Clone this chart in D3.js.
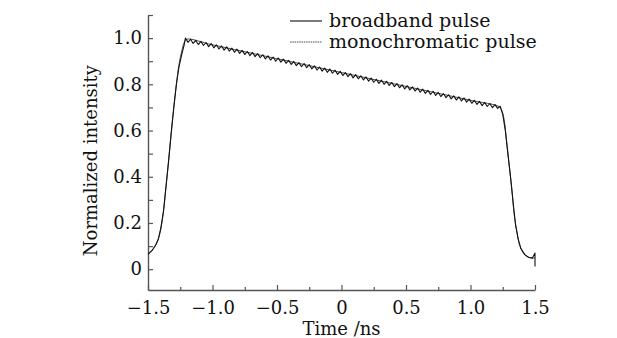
<!DOCTYPE html>
<html lang="en">
<head>
    <meta charset="utf-8">
    <title>Pulse shape</title>
    <style>
        body { margin: 0; background: #fff; }
        svg { display: block; }
        .tick text, .lab { font-family: "DejaVu Serif", serif; fill: #111; }
    </style>
</head>
<body>
<script src="https://cdn.jsdelivr.net/npm/d3@7/dist/d3.min.js"></script>
<script>
    // series: [time (ns), normalized intensity]
    const broadband = [
        [-1.50, 0.065], [-1.47, 0.08], [-1.44, 0.105], [-1.41, 0.15], [-1.38, 0.25],
        [-1.36, 0.36], [-1.34, 0.47], [-1.32, 0.59], [-1.30, 0.70],
        [-1.28, 0.80], [-1.26, 0.885], [-1.24, 0.94], [-1.22, 0.98], [-1.20, 0.995],
        [-1.00, 0.971], [-0.50, 0.911], [0.00, 0.851], [0.50, 0.791], [1.00, 0.731],
        [1.22, 0.704], [1.24, 0.69], [1.26, 0.65], [1.28, 0.55], [1.30, 0.45],
        [1.32, 0.35], [1.34, 0.23], [1.36, 0.16], [1.38, 0.105], [1.40, 0.08],
        [1.43, 0.058], [1.46, 0.05], [1.49, 0.048], [1.50, 0.05]
    ];

    const monochromatic = [
        [-1.50, 0.065], [-1.47, 0.08], [-1.44, 0.105], [-1.42, 0.13], [-1.40, 0.18], [-1.38, 0.25],
        [-1.36, 0.36], [-1.34, 0.47], [-1.32, 0.59], [-1.30, 0.70],
        [-1.28, 0.80], [-1.26, 0.875], [-1.24, 0.925], [-1.22, 0.97],
        [-1.21, 1.000], [-1.19, 0.982], [-1.17, 0.995], [-1.15, 0.977], [-1.13, 0.990], [-1.11, 0.972],
        [-1.09, 0.986], [-1.07, 0.968], [-1.05, 0.981], [-1.03, 0.963], [-1.01, 0.976], [-0.99, 0.958],
        [-0.97, 0.971], [-0.95, 0.953], [-0.93, 0.966], [-0.91, 0.948], [-0.89, 0.962], [-0.87, 0.944],
        [-0.85, 0.957], [-0.83, 0.939], [-0.81, 0.952], [-0.79, 0.934], [-0.77, 0.947], [-0.75, 0.929],
        [-0.73, 0.942], [-0.71, 0.924], [-0.69, 0.938], [-0.67, 0.920], [-0.65, 0.933], [-0.63, 0.915],
        [-0.61, 0.928], [-0.59, 0.910], [-0.57, 0.923], [-0.55, 0.905], [-0.53, 0.918], [-0.51, 0.900],
        [-0.49, 0.914], [-0.47, 0.896], [-0.45, 0.909], [-0.43, 0.891], [-0.41, 0.904], [-0.39, 0.886],
        [-0.37, 0.899], [-0.35, 0.881], [-0.33, 0.894], [-0.31, 0.876], [-0.29, 0.890], [-0.27, 0.872],
        [-0.25, 0.885], [-0.23, 0.867], [-0.21, 0.880], [-0.19, 0.862], [-0.17, 0.875], [-0.15, 0.857],
        [-0.13, 0.870], [-0.11, 0.852], [-0.09, 0.866], [-0.07, 0.848], [-0.05, 0.861], [-0.03, 0.843],
        [-0.01, 0.856], [0.01, 0.838], [0.03, 0.851], [0.05, 0.833], [0.07, 0.846], [0.09, 0.828],
        [0.11, 0.842], [0.13, 0.824], [0.15, 0.837], [0.17, 0.819], [0.19, 0.832], [0.21, 0.814],
        [0.23, 0.827], [0.25, 0.809], [0.27, 0.822], [0.29, 0.804], [0.31, 0.818], [0.33, 0.800],
        [0.35, 0.813], [0.37, 0.795], [0.39, 0.808], [0.41, 0.790], [0.43, 0.803], [0.45, 0.785],
        [0.47, 0.798], [0.49, 0.780], [0.51, 0.794], [0.53, 0.776], [0.55, 0.789], [0.57, 0.771],
        [0.59, 0.784], [0.61, 0.766], [0.63, 0.779], [0.65, 0.761], [0.67, 0.774], [0.69, 0.756],
        [0.71, 0.770], [0.73, 0.752], [0.75, 0.765], [0.77, 0.747], [0.79, 0.760], [0.81, 0.742],
        [0.83, 0.755], [0.85, 0.737], [0.87, 0.750], [0.89, 0.732], [0.91, 0.746], [0.93, 0.728],
        [0.95, 0.741], [0.97, 0.723], [0.99, 0.736], [1.01, 0.718], [1.03, 0.731], [1.05, 0.713],
        [1.07, 0.726], [1.09, 0.708], [1.11, 0.722], [1.13, 0.704], [1.15, 0.717], [1.17, 0.699],
        [1.19, 0.712], [1.21, 0.696], [1.23, 0.705],
        [1.25, 0.67], [1.27, 0.60], [1.29, 0.50], [1.31, 0.40], [1.33, 0.29], [1.35, 0.19],
        [1.37, 0.13], [1.39, 0.09], [1.42, 0.063], [1.45, 0.052], [1.48, 0.048], [1.50, 0.07], [1.50, 0.012]
    ];

    const xTicks = [-1.5, -1.0, -0.5, 0, 0.5, 1.0, 1.5];
    const xMinor = [-1.25, -0.75, -0.25, 0.25, 0.75, 1.25];
    const yTicks = [0, 0.2, 0.4, 0.6, 0.8, 1.0];
    const yMinor = [0.1, 0.3, 0.5, 0.7, 0.9, 1.1];
    const legendNames = ["broadband pulse", "monochromatic pulse"];

    const width = 617, height = 338;
    const margin = {top: 15, right: 82, bottom: 48, left: 148};

    const svg = d3.select("body").append("svg")
        .attr("width", width)
        .attr("height", height);

    const x = d3.scaleLinear().domain([-1.5, 1.5]).range([margin.left, width - margin.right]);
    const y = d3.scaleLinear().domain([-0.09, 1.1]).range([height - margin.bottom, margin.top]);

    const fmt = d => d === 0 ? "0" : d3.format(".1f")(d);
    const axisColor = "#555";

    // x axis: ticks point inwards
    const gx = svg.append("g")
        .attr("transform", `translate(0,${height - margin.bottom})`)
        .call(d3.axisBottom(x).tickValues(xTicks).tickFormat(fmt).tickSizeInner(-5).tickSizeOuter(0).tickPadding(11));
    gx.append("g")
        .call(d3.axisBottom(x).tickValues(xMinor).tickFormat("").tickSizeInner(-3).tickSizeOuter(0))
        .select(".domain").remove();

    // y axis
    const gy = svg.append("g")
        .attr("transform", `translate(${margin.left},0)`)
        .call(d3.axisLeft(y).tickValues(yTicks).tickFormat(fmt).tickSizeInner(-5).tickSizeOuter(0).tickPadding(6));
    gy.append("g")
        .call(d3.axisLeft(y).tickValues(yMinor).tickFormat("").tickSizeInner(-5).tickSizeOuter(0))
        .select(".domain").remove();

    svg.selectAll(".domain").attr("stroke", axisColor).attr("stroke-width", 1.4);
    svg.selectAll(".tick line").attr("stroke", axisColor).attr("stroke-width", 1.2);
    svg.selectAll(".tick text").attr("font-size", 18).attr("fill", "#111");

    // axis titles
    svg.append("text")
        .attr("class", "lab")
        .attr("x", x(0))
        .attr("y", 335)
        .attr("text-anchor", "middle")
        .attr("font-size", 18)
        .text("Time /ns");

    svg.append("text")
        .attr("class", "lab")
        .attr("transform", `translate(97,${y(0.47)}) rotate(-90)`)
        .attr("text-anchor", "middle")
        .attr("font-size", 18)
        .text("Normalized intensity");

    // curves: broadband underneath, rippled monochromatic on top
    const smooth = d3.line().x(d => x(d[0])).y(d => y(d[1])).curve(d3.curveCatmullRom);
    const sharp = d3.line().x(d => x(d[0])).y(d => y(d[1]));

    svg.append("path")
        .datum(broadband)
        .attr("d", smooth)
        .attr("fill", "none")
        .attr("stroke", "#222")
        .attr("stroke-width", 0.8);

    svg.append("path")
        .datum(monochromatic)
        .attr("d", sharp)
        .attr("fill", "none")
        .attr("stroke", "#111")
        .attr("stroke-width", 1.1)
        .attr("stroke-linejoin", "round");

    // legend
    const legend = svg.append("g");
    legendNames.forEach((name, i) => {
        const row = legend.append("g").attr("transform", `translate(290,${21 + i * 21})`);
        row.append("line")
            .attr("x1", 0).attr("x2", 32)
            .attr("stroke", i === 0 ? "#111" : "#333")
            .attr("stroke-width", i === 0 ? 1.1 : 0.9)
            .attr("stroke-dasharray", i === 0 ? null : "1.5,0.8");
        row.append("text")
            .attr("class", "lab")
            .attr("x", 39)
            .attr("y", 6)
            .attr("font-size", 19)
            .text(name);
    });
</script>
</body>
</html>
